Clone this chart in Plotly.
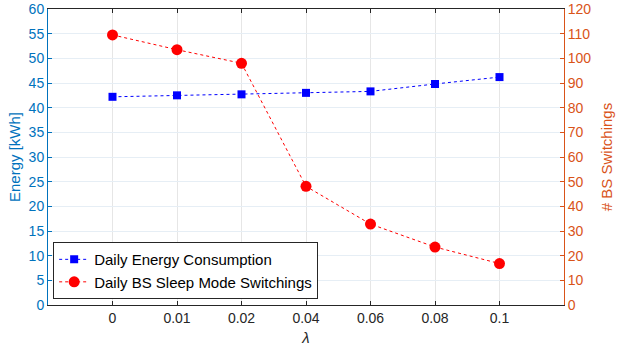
import plotly.graph_objects as go

categories = ["0", "0.01", "0.02", "0.04", "0.06", "0.08", "0.1"]
energy_kwh = [42.2, 42.5, 42.7, 43.0, 43.3, 44.8, 46.2]
bs_switchings = [109.5, 103.5, 98.0, 48.1, 32.8, 23.5, 16.8]
left_ticks = list(range(0, 61, 5))
right_ticks = list(range(0, 121, 10))

BLUE_AX = "#0072BD"
ORANGE_AX = "#D95319"
FONT = "Liberation Sans, Arial, sans-serif"

fig = go.Figure()
fig.add_trace(go.Scatter(
    x=categories, y=energy_kwh, name="Daily Energy Consumption",
    mode="lines+markers",
    line=dict(color="#0000FF", width=1, dash="dot"),
    marker=dict(symbol="square", size=8, color="#0000FF"),
    yaxis="y",
))
fig.add_trace(go.Scatter(
    x=categories, y=bs_switchings, name="Daily BS Sleep Mode Switchings",
    mode="lines+markers",
    line=dict(color="#FF0000", width=1, dash="dot"),
    marker=dict(symbol="circle", size=11, color="#FF0000"),
    yaxis="y2",
))

fig.update_layout(
    width=618, height=354,
    margin=dict(l=48, r=54, t=9, b=49, autoexpand=False),
    paper_bgcolor="white", plot_bgcolor="white",
    font=dict(family=FONT, size=14, color="#262626"),
    showlegend=True,
    legend=dict(
        x=0.01, y=0.02, xanchor="left", yanchor="bottom",
        bgcolor="white", bordercolor="#262626", borderwidth=1,
        font=dict(size=15, color="black"),
        tracegroupgap=0, itemwidth=30,
    ),
    xaxis=dict(
        type="category", categoryorder="array", categoryarray=categories,
        range=[-1, 7], automargin=False,
        tickvals=categories, ticktext=categories,
        showgrid=True, gridcolor="#e6e6e6", gridwidth=1,
        showline=True, linecolor="#262626", linewidth=1, mirror="ticks",
        ticks="inside", ticklen=4, tickcolor="#262626",
        tickfont=dict(size=14, color="#262626"),
        title=dict(text="<i>λ</i>", font=dict(size=15, color="#262626"), standoff=7),
        zeroline=False,
    ),
    yaxis=dict(
        range=[0, 60], tickvals=left_ticks, automargin=False,
        ticklabeloverflow="allow",
        showgrid=True, gridcolor="#e6eef5", gridwidth=1,
        showline=True, linecolor=BLUE_AX, linewidth=1,
        ticks="inside", ticklen=4, tickcolor=BLUE_AX,
        tickfont=dict(size=14, color=BLUE_AX),
        title=dict(text="Energy [kWh]", font=dict(size=15, color=BLUE_AX), standoff=4),
        zeroline=False,
    ),
    yaxis2=dict(
        range=[0, 120], tickvals=right_ticks, automargin=False,
        ticklabeloverflow="allow",
        overlaying="y", side="right",
        showgrid=False,
        showline=True, linecolor=ORANGE_AX, linewidth=1,
        ticks="inside", ticklen=4, tickcolor=ORANGE_AX,
        tickfont=dict(size=14, color=ORANGE_AX),
        title=dict(text="# BS Switchings", font=dict(size=15, color=ORANGE_AX), standoff=11),
        zeroline=False,
    ),
)

fig.write_html(
    "out.html",
    config={"displayModeBar": False},
    post_script="document.body.style.margin='0';document.body.style.overflow='hidden';",
)
